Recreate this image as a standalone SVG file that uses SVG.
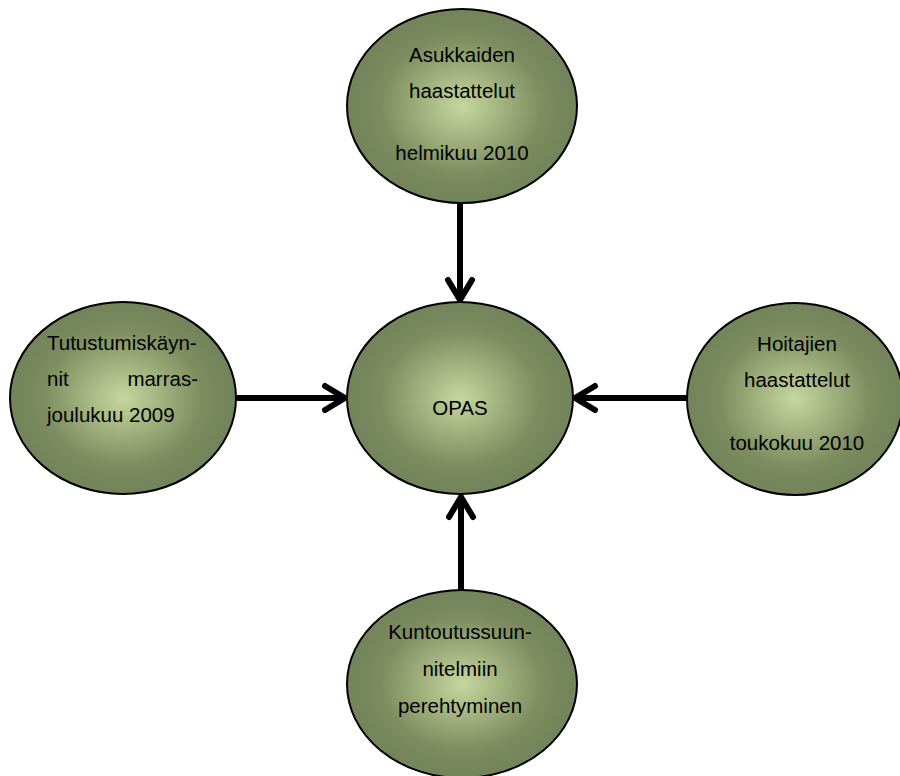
<svg xmlns="http://www.w3.org/2000/svg" width="900" height="776" viewBox="0 0 900 776">
<defs>
<radialGradient id="g" cx="0.5" cy="0.5" r="0.5">
<stop offset="0" stop-color="#c5d79e"/>
<stop offset="0.7" stop-color="#7d8d60"/>
<stop offset="1" stop-color="#73835a"/>
</radialGradient>
<style>
.n{fill:url(#g);stroke:#000;stroke-width:2}
.t{font-family:"Liberation Sans",Arial,sans-serif;font-size:20.5px;fill:#000}
.c{text-anchor:middle}
.l{stroke:#000;stroke-width:6;fill:none;stroke-linecap:round;stroke-linejoin:round}
</style>
</defs>
<rect width="900" height="776" fill="#fff"/>
<g id="connectors">
<path class="l" d="M460 203V300M448 280L460 300L472 280"/>
<path class="l" d="M236 398H345M325 386L345 398L325 410"/>
<path class="l" d="M687 398H575M595 386L575 398L595 410"/>
<path class="l" d="M461 590V497M449 517L461 497L473 517"/>
</g>
<g id="top">
<ellipse class="n" cx="462" cy="106" rx="115" ry="97"/>
<text class="t c" x="462" y="62">Asukkaiden</text>
<text class="t c" x="462" y="98">haastattelut</text>
<text class="t c" x="462" y="160">helmikuu 2010</text>
</g>
<g id="center">
<ellipse class="n" cx="460" cy="398" rx="113" ry="96"/>
<text class="t c" x="460" y="415">OPAS</text>
</g>
<g id="left">
<ellipse class="n" cx="123" cy="398" rx="113" ry="96"/>
<text class="t" x="47" y="350">Tutustumiskäyn-</text>
<text class="t" x="47" y="386">nit</text>
<text class="t" x="198" y="386" text-anchor="end">marras-</text>
<text class="t" x="47" y="422">joulukuu 2009</text>
</g>
<g id="right">
<ellipse class="n" cx="795" cy="399" rx="108" ry="96"/>
<text class="t c" x="797" y="351">Hoitajien</text>
<text class="t c" x="797" y="387">haastattelut</text>
<text class="t c" x="797" y="450">toukokuu 2010</text>
</g>
<g id="bottom">
<ellipse class="n" cx="462" cy="684" rx="115" ry="94"/>
<text class="t c" x="460" y="639">Kuntoutussuun-</text>
<text class="t c" x="460" y="676">nitelmiin</text>
<text class="t c" x="460" y="713">perehtyminen</text>
</g>
</svg>
